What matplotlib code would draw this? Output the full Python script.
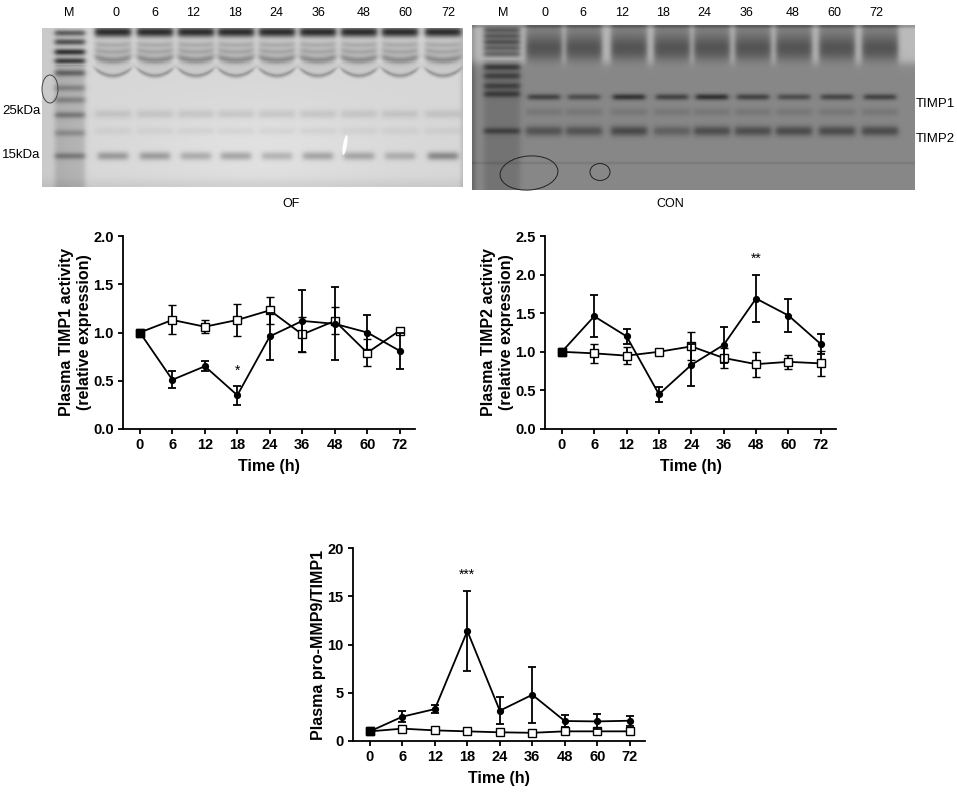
import numpy as np
import matplotlib.pyplot as plt
from matplotlib.patches import Ellipse

plt.rcParams['font.family'] = ['Liberation Sans', 'DejaVu Sans']

# time points (h), plotted as equally spaced categories
times = ['0', '6', '12', '18', '24', '36', '48', '60', '72']

# plasma TIMP1 activity (relative expression)
timp1_of = [1.00, 0.51, 0.65, 0.35, 0.96, 1.12, 1.09, 1.00, 0.81]
timp1_of_err = [0.0, 0.09, 0.05, 0.10, 0.24, 0.32, 0.38, 0.18, 0.19]
timp1_con = [1.00, 1.13, 1.06, 1.13, 1.23, 0.98, 1.12, 0.79, 1.02]
timp1_con_err = [0.0, 0.15, 0.07, 0.17, 0.14, 0.18, 0.14, 0.14, 0.03]

# plasma TIMP2 activity (relative expression)
timp2_of = [1.00, 1.46, 1.20, 0.45, 0.83, 1.09, 1.69, 1.47, 1.10]
timp2_of_err = [0.0, 0.27, 0.10, 0.10, 0.27, 0.23, 0.31, 0.22, 0.13]
timp2_con = [1.00, 0.98, 0.95, 1.00, 1.07, 0.92, 0.84, 0.87, 0.85]
timp2_con_err = [0.0, 0.12, 0.11, 0.03, 0.18, 0.13, 0.16, 0.09, 0.16]

# plasma pro-MMP9 / TIMP1
ratio_of = [1.00, 2.52, 3.31, 11.4, 3.14, 4.79, 2.07, 2.03, 2.10]
ratio_of_err = [0.0, 0.60, 0.38, 4.17, 1.37, 2.93, 0.62, 0.76, 0.50]
ratio_con = [1.00, 1.28, 1.10, 1.00, 0.90, 0.85, 1.00, 1.00, 1.00]
ratio_con_err = [0.0, 0.10, 0.08, 0.06, 0.06, 0.05, 0.06, 0.08, 0.06]

# gel lanes
gel_lanes = ['M', '0', '6', '12', '18', '24', '36', '48', '60', '72']
of_lane_x = [70, 113, 155, 196, 236, 277, 318, 359, 400, 443]
con_lane_x = [502, 544, 584, 629, 672, 712, 753, 794, 837, 880]
of_label_x = [69, 116, 155, 193, 235, 276, 318, 364, 405, 448]
con_label_x = [503, 545, 583, 622, 663, 704, 747, 793, 834, 876]

# OF gel sample bands: row, width, darkness, smile curvature
of_band_y = [32, 45, 52, 60, 76, 114, 131]
of_band_s = [3.8, 2.4, 2.4, 2.8, 1.6, 3.2, 2.8]
of_band_d = [0.66, 0.16, 0.18, 0.28, 0.20, 0.08, 0.04]
of_band_c = [0, 1, 2, 3, 7, 0, 0]
of_15kda = [0.24, 0.24, 0.19, 0.22, 0.17, 0.22, 0.21, 0.17, 0.30]
of_marker_y = [33, 42, 52, 61, 73, 88, 100, 115, 133, 156]
of_marker_d = [0.45, 0.50, 0.62, 0.58, 0.30, 0.18, 0.18, 0.22, 0.15, 0.22]

# CON gel sample bands
con_timp1 = [0.26, 0.22, 0.32, 0.26, 0.33, 0.26, 0.22, 0.25, 0.26]
con_timp2 = [0.20, 0.20, 0.24, 0.15, 0.22, 0.22, 0.23, 0.23, 0.23]
con_marker_y = [30, 36, 42, 48, 54, 67, 76, 86, 94, 131]
con_marker_d = [0.35, 0.35, 0.38, 0.32, 0.30, 0.25, 0.20, 0.20, 0.22, 0.20]


def lane_profile(xx, c, w):
    return 0.5 * (np.tanh((xx - (c - w / 2)) / 3.0) - np.tanh((xx - (c + w / 2)) / 3.0))


def band(yy, y0, s):
    return np.exp(-0.5 * ((yy - y0) / s) ** 2)


fig = plt.figure(figsize=(9.57, 7.92), dpi=100)

# overlay in pixel units for the gels and their labels
ax_bg = fig.add_axes([0, 0, 1, 1])
ax_bg.set_xlim(0, 957)
ax_bg.set_ylim(792, 0)
ax_bg.axis('off')

# ---- OF gel ----
x0, x1, y0, y1 = 42, 463, 28, 187
xx, yy = np.meshgrid(np.arange(x0, x1) + 0.5, np.arange(y0, y1) + 0.5)
img = np.full(xx.shape, 0.84)
img += 0.04 * np.exp(-((xx - 260) / 120.0) ** 2 - ((yy - 150) / 50.0) ** 2)
img -= 0.05 * np.exp(-((xx - x0) / 20.0) ** 2) + 0.05 * np.exp(-((y1 - yy) / 8.0) ** 2)
img -= 0.08 * np.exp(-((x1 - xx) / 3.0) ** 2)
mc = of_lane_x[0]
mprof = lane_profile(xx, mc, 30)
img -= 0.14 * mprof * (yy > 65)
for by, bd in zip(of_marker_y, of_marker_d):
    img -= bd * mprof * band(yy, by, 2.4)
for i, c in enumerate(of_lane_x[1:]):
    prof = lane_profile(xx, c, 36)
    rel = ((xx - c) / 18.0) ** 2
    for by, bs, bd, bc in zip(of_band_y, of_band_s, of_band_d, of_band_c):
        img -= bd * prof * band(yy, by - bc * rel, bs)
    img -= 0.05 * prof * (yy > 62) * (yy < 76 - 7 * rel)
    img -= of_15kda[i] * lane_profile(xx, c, 30) * band(yy, 156, 3.0)
img = np.clip(img, 0, 1)
ax_bg.imshow(img, cmap='gray', vmin=0, vmax=1, extent=(x0, x1, y1, y0),
             interpolation='bilinear', aspect='auto')
ax_bg.add_patch(Ellipse((50, 89), 16, 28, fill=False, ec='#444444', lw=0.7))
ax_bg.add_patch(Ellipse((345, 145), 4, 20, angle=10, fc='white', ec='none'))

# ---- CON gel ----
x0, x1, y0, y1 = 472, 915, 25, 190
xx, yy = np.meshgrid(np.arange(x0, x1) + 0.5, np.arange(y0, y1) + 0.5)
img = np.full(xx.shape, 0.53)
top = 1 / (1 + np.exp((yy - 63) / 2.5))
img += 0.20 * top
img -= 0.15 * band(yy, 26, 1.5)
img -= 0.12 * np.exp(-((xx - x0) / 4.0) ** 2)
img -= 0.05 * band(yy, 163, 1.0)
mprof = lane_profile(xx, con_lane_x[0], 36)
img -= 0.08 * mprof * (yy > 60)
for by, bd in zip(con_marker_y, con_marker_d):
    img -= bd * mprof * band(yy, by, 2.4)
for i, c in enumerate(con_lane_x[1:]):
    prof = lane_profile(xx, c, 36)
    img -= 0.40 * prof * top * (0.55 + 0.45 * band(yy, 48, 9))
    img -= con_timp1[i] * lane_profile(xx, c, 32) * band(yy, 97, 2.2)
    img -= 0.06 * prof * band(yy, 112, 3.0)
    img -= con_timp2[i] * prof * band(yy, 131, 3.6)
img = np.clip(img, 0, 1)
ax_bg.imshow(img, cmap='gray', vmin=0, vmax=1, extent=(x0, x1, y1, y0),
             interpolation='bilinear', aspect='auto')
ax_bg.add_patch(Ellipse((529, 173), 58, 34, angle=-5, fill=False, ec='#222222', lw=0.7))
ax_bg.add_patch(Ellipse((600, 172), 20, 17, fill=False, ec='#222222', lw=0.7))

for lab, lx in zip(gel_lanes, of_label_x):
    ax_bg.text(lx, 13, lab, ha='center', va='center', fontsize=9)
for lab, lx in zip(gel_lanes, con_label_x):
    ax_bg.text(lx, 13, lab, ha='center', va='center', fontsize=9)
ax_bg.text(2, 111, '25kDa', ha='left', va='center', fontsize=9.5)
ax_bg.text(2, 155, '15kDa', ha='left', va='center', fontsize=9.5)
ax_bg.text(916, 104, 'TIMP1', ha='left', va='center', fontsize=9.5)
ax_bg.text(916, 139, 'TIMP2', ha='left', va='center', fontsize=9.5)
ax_bg.text(291, 204, 'OF', ha='center', va='center', fontsize=9)
ax_bg.text(670, 204, 'CON', ha='center', va='center', fontsize=9)


def make_axes(left, right, top, bottom):
    ax = fig.add_axes([left / 957, 1 - bottom / 792, (right - left) / 957, (bottom - top) / 792])
    ax.spines['top'].set_visible(False)
    ax.spines['right'].set_visible(False)
    ax.spines['left'].set_linewidth(1.3)
    ax.spines['bottom'].set_linewidth(1.3)
    ax.tick_params(width=1.3, length=3.8, labelsize=10.5, pad=3)
    return ax


def draw_series(ax, of, of_err, con, con_err):
    x = np.arange(len(times))
    ax.errorbar(x, con, yerr=con_err, fmt='-s', color='black', mfc='white', mec='black',
                ms=6, mew=1.0, lw=1.3, elinewidth=1.3, capsize=3, capthick=1.3, zorder=3)
    ax.errorbar(x, of, yerr=of_err, fmt='-o', color='black', ms=4.2, lw=1.3,
                elinewidth=1.3, capsize=3, capthick=1.3, zorder=4)
    ax.plot(x[0], con[0], 's', color='black', ms=6, zorder=5)
    ax.set_xticks(x)
    ax.set_xticklabels(times)
    ax.set_xlim(-0.52, 8.47)
    ax.set_xlabel('Time (h)', fontsize=11.5, fontweight='bold', labelpad=5)
    for t in ax.get_xticklabels() + ax.get_yticklabels():
        t.set_fontweight('bold')


# TIMP1 panel
ax1 = make_axes(123, 415, 236, 429)
ax1.set_ylim(0, 2.0)
ax1.set_yticks([0, 0.5, 1.0, 1.5, 2.0])
ax1.set_yticklabels(['0.0', '0.5', '1.0', '1.5', '2.0'])
draw_series(ax1, timp1_of, timp1_of_err, timp1_con, timp1_con_err)
ax1.set_ylabel('Plasma TIMP1 activity\n(relative expression)', fontsize=11.5,
               fontweight='bold', linespacing=1.3, labelpad=0.5)
ax1.text(3, 0.6, '*', ha='center', va='center', fontsize=10)

# TIMP2 panel
ax2 = make_axes(545, 836, 236, 429)
ax2.set_ylim(0, 2.5)
ax2.set_yticks([0, 0.5, 1.0, 1.5, 2.0, 2.5])
ax2.set_yticklabels(['0.0', '0.5', '1.0', '1.5', '2.0', '2.5'])
draw_series(ax2, timp2_of, timp2_of_err, timp2_con, timp2_con_err)
ax2.set_ylabel('Plasma TIMP2 activity\n(relative expression)', fontsize=11.5,
               fontweight='bold', linespacing=1.3, labelpad=0.5)
ax2.text(6, 2.2, '**', ha='center', va='center', fontsize=10)

# pro-MMP9/TIMP1 panel
ax3 = make_axes(353, 645, 548, 741)
ax3.set_ylim(0, 20)
ax3.set_yticks([0, 5, 10, 15, 20])
draw_series(ax3, ratio_of, ratio_of_err, ratio_con, ratio_con_err)
ax3.set_ylabel('Plasma pro-MMP9/TIMP1', fontsize=11.5, fontweight='bold', labelpad=0.5)
ax3.text(3, 17.2, '***', ha='center', va='center', fontsize=10)

fig.savefig('out.png', dpi=100)
